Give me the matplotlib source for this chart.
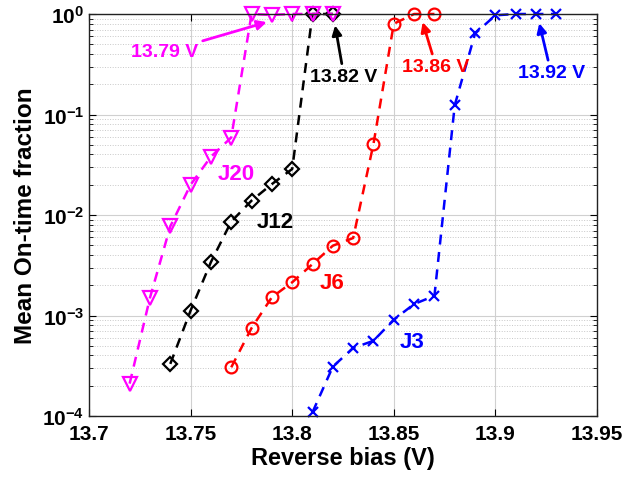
import numpy as np
import matplotlib
matplotlib.use("Agg")
import matplotlib.pyplot as plt
from matplotlib.ticker import LogLocator, NullFormatter

plt.rcParams['font.family'] = ['Liberation Sans', 'DejaVu Sans']
plt.rcParams['font.weight'] = 'bold'
plt.rcParams['mathtext.default'] = 'regular'

# ---- data ----
j20_v = [13.72, 13.73, 13.74, 13.75, 13.76, 13.77, 13.78, 13.79, 13.80, 13.81, 13.82]
j20_f = [2.1e-4, 1.5e-3, 7.7e-3, 0.020, 0.038, 0.059, 1.0, 0.98, 1.0, 1.0, 1.0]

j12_v = [13.74, 13.75, 13.76, 13.77, 13.78, 13.79, 13.80, 13.81, 13.82]
j12_f = [3.3e-4, 1.12e-3, 3.4e-3, 8.6e-3, 0.0139, 0.0203, 0.0287, 1.0, 1.0]

j6_v = [13.77, 13.78, 13.79, 13.80, 13.81, 13.82, 13.83, 13.84, 13.85, 13.86, 13.87]
j6_f = [3.05e-4, 7.5e-4, 1.52e-3, 2.14e-3, 3.25e-3, 4.95e-3, 5.9e-3, 0.051, 0.80, 1.0, 1.0]

j3_v = [13.81, 13.82, 13.83, 13.84, 13.85, 13.86, 13.87, 13.88, 13.89, 13.90, 13.91, 13.92, 13.93]
j3_f = [1.09e-4, 3.1e-4, 4.75e-4, 5.6e-4, 9.1e-4, 1.3e-3, 1.57e-3, 0.124, 0.64, 0.97, 1.0, 1.0, 1.0]

x_ticks = [13.7, 13.75, 13.8, 13.85, 13.9, 13.95]
x_tick_labels = ['13.7', '13.75', '13.8', '13.85', '13.9', '13.95']

MAG = '#ff00ff'
BLK = '#000000'
RED = '#ff0000'
BLU = '#0000ff'

fig = plt.figure(figsize=(6.42, 4.85), dpi=100)
ax = fig.add_axes([89/642, 1-417/485, (597-89)/642, (417-15)/485])

ax.set_yscale('log')
ax.set_xlim(13.7, 13.95)
ax.set_ylim(1e-4, 1)

# grid
ax.set_axisbelow(True)
ax.grid(True, which='major', axis='both', color='#d0d0d0', lw=0.8, ls='-')
ax.grid(True, which='minor', axis='y', color='#c8c8c8', lw=0.7, ls=':')

common = dict(ls='--', lw=1.8, mfc='none', mew=1.6, clip_on=False, dashes=(4, 3))
ax.plot(j3_v, j3_f, color=BLU, marker='x', ms=6.5, **common)
ax.plot(j6_v, j6_f, color=RED, marker='o', ms=8.5, **common)
ax.plot(j12_v, j12_f, color=BLK, marker='D', ms=7.5, **common)
ax.plot(j20_v, j20_f, color=MAG, marker='v', ms=10, **common)

ax.set_xticks(x_ticks)
ax.set_xticklabels(x_tick_labels)
ax.yaxis.set_major_locator(LogLocator(base=10, numticks=10))
ax.yaxis.set_minor_locator(LogLocator(base=10, subs=np.arange(2, 10), numticks=10))
ax.yaxis.set_minor_formatter(NullFormatter())

ax.tick_params(which='both', direction='in', top=True, right=True, labelsize=15)
ax.tick_params(which='major', length=5, width=0.8)
ax.tick_params(which='minor', length=3, width=0.6)
ax.tick_params(axis='x', pad=6)
for s in ax.spines.values():
    s.set_linewidth(1.0)
    s.set_color('#222222')

ax.set_xlabel('Reverse bias (V)', fontsize=17, fontweight='bold', labelpad=2)
ax.set_ylabel('Mean On-time fraction', fontsize=17.5, fontweight='bold', labelpad=4)

# annotations
arrow = lambda c: dict(arrowstyle='-|>', color=c, lw=2, mutation_scale=14, shrinkA=1, shrinkB=0)
ax.annotate('13.79 V', xy=(13.7875, 0.83), xytext=(13.7374, 0.42), color=MAG,
            fontsize=14, fontweight='bold', ha='center', va='center', arrowprops=arrow(MAG))
ax.annotate('13.82 V', xy=(13.8211, 0.77), xytext=(13.8255, 0.24), color=BLK,
            fontsize=14, fontweight='bold', ha='center', va='center', arrowprops=arrow(BLK))
ax.annotate('13.86 V', xy=(13.8642, 0.83), xytext=(13.8708, 0.30), color=RED,
            fontsize=14, fontweight='bold', ha='center', va='center', arrowprops=arrow(RED))
ax.annotate('13.92 V', xy=(13.9216, 0.81), xytext=(13.9274, 0.26), color=BLU,
            fontsize=14, fontweight='bold', ha='center', va='center', arrowprops=arrow(BLU))

# series labels
ax.text(13.7723, 0.0256, 'J20', color=MAG, fontsize=16, fontweight='bold', ha='center', va='center')
ax.text(13.7915, 0.0087, 'J12', color=BLK, fontsize=16, fontweight='bold', ha='center', va='center')
ax.text(13.8196, 0.00215, 'J6', color=RED, fontsize=16, fontweight='bold', ha='center', va='center')
ax.text(13.859, 5.45e-4, 'J3', color=BLU, fontsize=16, fontweight='bold', ha='center', va='center')

fig.savefig('out.png', dpi=100)
